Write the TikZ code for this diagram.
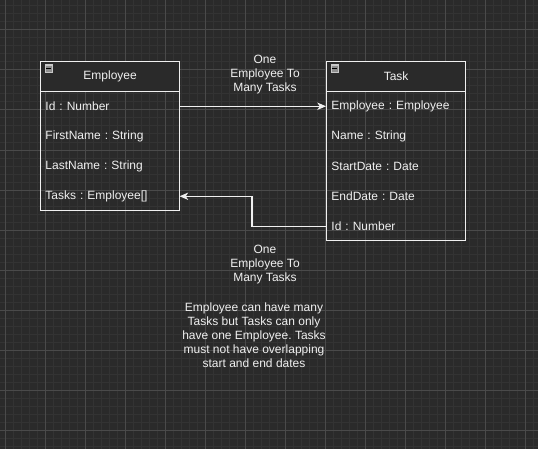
\documentclass[tikz,border=0pt]{standalone}
\usepackage{fontspec}
\setmainfont{Liberation Sans}
\usetikzlibrary{arrows.meta}
\frenchspacing
\definecolor{bg}{HTML}{2A2A2A}
\definecolor{gridminor}{HTML}{333333}
\definecolor{gridmajor}{HTML}{4A4A4A}
\definecolor{fg}{HTML}{F0F0F0}
\definecolor{iconborder}{HTML}{C8C8C8}
\definecolor{iconfill}{HTML}{8E8E8E}
\tikzset{
  minorline/.style={draw=gridminor, line width=0.75pt},
  majorline/.style={draw=gridmajor, line width=0.75pt},
  classbox/.style={draw=fg, line width=0.9pt, minimum width=104.25pt, anchor=north west, inner sep=0pt},
  header/.style={draw=fg, fill=bg, line width=0.9pt, minimum width=104.25pt, minimum height=22.5pt, anchor=north west, inner sep=0pt, text=fg, font=\fontsize{9}{10.5}\selectfont},
  rowtext/.style={minimum width=104.25pt, minimum height=22.5pt, anchor=north west, inner xsep=3.9pt, inner ysep=0pt, text width=96.45pt, align=left, text=fg, font=\fontsize{9}{10.5}\selectfont},
  lbl/.style={align=center, text=fg, font=\fontsize{9}{10.5}\selectfont, inner sep=0pt},
  conn/.style={draw=fg, line width=0.9pt, -{Stealth[length=6.5pt, width=5.5pt, inset=1.8pt]}},
  iconbox/.style={draw=iconborder, fill=iconfill, line width=0.8pt, minimum size=5.6pt, inner sep=0pt, anchor=north west}
}
\begin{document}
\begin{tikzpicture}[x=0.75pt, y=-0.75pt]
\fill[bg] (0,0) rectangle (538,449);
\useasboundingbox (0,0) rectangle (538,449);
% grid
\foreach \x in {5,13,...,537} \draw[minorline] (\x,0) -- (\x,449);
\foreach \y in {6,14,...,449} \draw[minorline] (0,\y) -- (538,\y);
\foreach \x in {5,45,...,537} \draw[majorline] (\x,0) -- (\x,449);
\foreach \y in {30,70,...,449} \draw[majorline] (0,\y) -- (538,\y);

% Employee class
\node[classbox, minimum height=111.75pt] (emp) at (40,61) {};
\node[header] (emphead) at (40,61) {Employee};
\node[iconbox] (empicon) at (44.5,64.5) {};
\draw[black, line width=1.1pt] ([xshift=1.2pt]empicon.west) -- ([xshift=-1.2pt]empicon.east);
\node[rowtext] (empid) at (40,91) {Id : Number};
\node[rowtext] (empfirst) at (40,121) {FirstName : String};
\node[rowtext] (emplast) at (40,151) {LastName : String};
\node[rowtext] (emptasks) at (40,181) {Tasks : Employee[]};

% Task class
\node[classbox, minimum height=134.25pt] (task) at (326,61) {};
\node[header] (taskhead) at (326,61) {Task};
\node[iconbox] (taskicon) at (330.5,64.5) {};
\draw[black, line width=1.1pt] ([xshift=1.2pt]taskicon.west) -- ([xshift=-1.2pt]taskicon.east);
\node[rowtext] (taskemp) at (326,91) {Employee : Employee};
\node[rowtext] (taskname) at (326,121) {Name : String};
\node[rowtext] (taskstart) at (326,151) {StartDate : Date};
\node[rowtext] (taskend) at (326,181) {EndDate : Date};
\node[rowtext] (taskid) at (326,211) {Id : Number};

% connectors
\draw[conn] (empid.east) -- (taskemp.west);
\draw[conn] (taskid.west) -- ++(-74,0) |- (emptasks.east);

% labels
\node[lbl] (lab1) at (265,75) {One\\Employee To\\Many Tasks};
\node[lbl] (lab2) at (265,265) {One\\Employee To\\Many Tasks};
\node[lbl] (note) at (254,335) {Employee can have many\\Tasks but Tasks can only\\have one Employee. Tasks\\must not have overlapping\\start and end dates};
\end{tikzpicture}
\end{document}
